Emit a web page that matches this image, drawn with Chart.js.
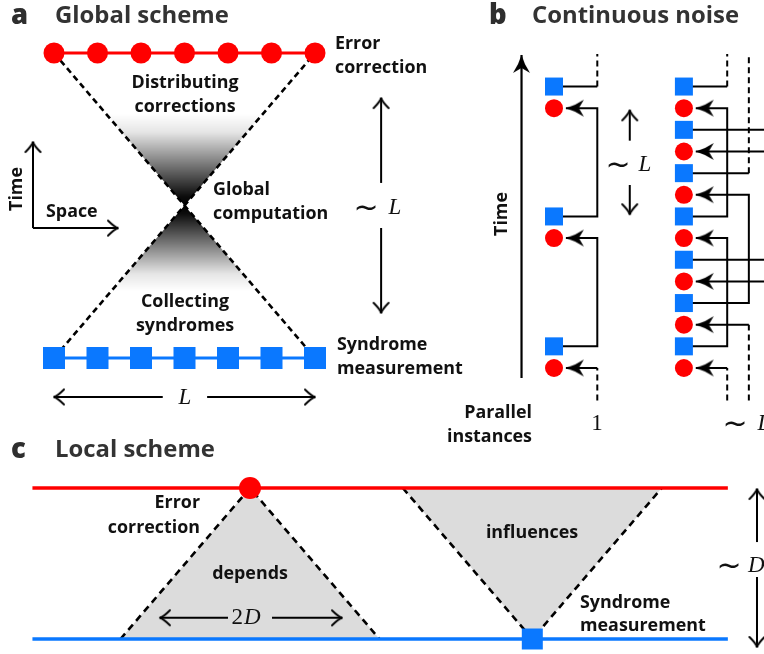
<!DOCTYPE html>
<html><head><meta charset="utf-8">
<script src="https://cdn.jsdelivr.net/npm/chart.js@4"></script>
<style>html,body{margin:0;padding:0;background:#fff}#c{display:block}</style>
</head><body>
<canvas id="c" width="764" height="654"></canvas>
<script>
// ================= DATA =================
// Panel a: global scheme (site index along space, time in units of one round)
const aSites = [0, 1, 2, 3, 4, 5, 6];
const aMeasureTime = 0;      // syndrome measurement row
const aComputeTime = 0.5;    // global computation
const aCorrectTime = 1;      // error correction row
const aComputeSite = 3;
const aFadeTop = 0.8;        // where the grey shading fades out
const aFadeBottom = 0.22;

// Panel b: continuous noise (time steps)
const bSingleSyndromes = [1, 7, 13];
const bSingleCorrections = [0, 6, 12];
const bManySyndromes = [1, 3, 5, 7, 9, 11, 13];
const bManyCorrections = [0, 2, 4, 6, 8, 10, 12];
// links: [lane, syndrome step, correction step]; null = outside the window
const bSingleLinks = [[0, 1, 6], [0, 7, 12], [0, 13, null], [0, null, 0]];
const bManyLinks = [
  [0, 1, 6], [0, 7, 12], [0, 13, null], [0, null, 0],
  [1, 3, 8], [1, 9, null], [1, null, 2],
  [2, 5, 10], [2, 11, null], [2, null, 4]
];

// Panel c: local scheme (space and time in units of D)
const cDependsAt = 0;
const cInfluencesAt = 2.18;
const cConeHalfWidth = 1;
const cSpan = [-1.68, 3.69];

// ================= LAYOUT =================
const W = 764, H = 654;
const MAP = {
  a: {x0: 54, kx: 43.5, y0: 358, ky: 305},
  b: {x0: 554, kx: 21.65, y0: 368, ky: 21.65},
  c: {x0: 250, kx: 129.5, y0: 639, ky: 151}
};
const RED = '#ff0000', BLUE = '#0a78ff', GRAY = '#dcdcdc';

function openHead(len, half, lw) {
  const c = document.createElement('canvas');
  c.width = Math.ceil(2 * len + 4); c.height = Math.ceil(2 * half + 4);
  const g = c.getContext('2d'), cx = c.width / 2, cy = c.height / 2;
  g.strokeStyle = '#000'; g.lineWidth = lw; g.lineCap = 'round'; g.lineJoin = 'round';
  g.beginPath();
  g.moveTo(cx - len, cy - half);
  g.quadraticCurveTo(cx - len * 0.35, cy - half * 0.15, cx, cy);
  g.quadraticCurveTo(cx - len * 0.35, cy + half * 0.15, cx - len, cy + half);
  g.stroke();
  return c;
}
function stealthHead(len, half, notch) {
  const c = document.createElement('canvas');
  c.width = Math.ceil(2 * len + 2); c.height = Math.ceil(2 * half + 2);
  const g = c.getContext('2d'), cx = c.width / 2, cy = c.height / 2;
  g.fillStyle = '#000';
  g.beginPath();
  g.moveTo(cx, cy);
  g.quadraticCurveTo(cx - len * 0.5, cy - half * 0.3, cx - len, cy - half);
  g.lineTo(cx - len + notch, cy);
  g.lineTo(cx - len, cy + half);
  g.quadraticCurveTo(cx - len * 0.5, cy + half * 0.3, cx, cy);
  g.closePath(); g.fill();
  return c;
}
const OPEN = openHead(10, 7.5, 1.9);
const STEALTH = stealthHead(18, 8.5, 5);

const datasets = [];
function add(p, pts, o) {
  datasets.push(Object.assign({
    xAxisID: 'x' + p, yAxisID: 'y' + p,
    data: pts.map(([x, y]) => ({x, y})),
    showLine: true, borderColor: '#000', borderWidth: 2, pointRadius: 0,
    pointBorderWidth: 0, fill: false, order: 5
  }, o));
}
function arrow(p, pts, head, o) {
  const m = MAP[p], n = pts.length, a = pts[n - 2], b = pts[n - 1];
  const ang = Math.atan2(-(b[1] - a[1]) * m.ky, (b[0] - a[0]) * m.kx) * 180 / Math.PI;
  add(p, pts, Object.assign({
    pointStyle: head, pointRotation: ang,
    pointRadius: pts.map((_, i) => i === n - 1 ? 4 : 0)
  }, o));
}
function grad(axis, fadeAt, darkAt) {
  return (ctx) => {
    const ch = ctx.chart, s = ch.scales[axis];
    if (!ch.chartArea || !s) return 'rgba(0,0,0,0)';
    const y0 = s.getPixelForValue(fadeAt), y1 = s.getPixelForValue(darkAt);
    if (!isFinite(y0) || !isFinite(y1)) return 'rgba(0,0,0,0)';
    const g = ch.ctx.createLinearGradient(0, y0, 0, y1);
    g.addColorStop(0, 'rgba(0,0,0,0)');
    g.addColorStop(0.2, 'rgba(0,0,0,0.1)');
    g.addColorStop(0.9, 'rgba(0,0,0,0.95)');
    g.addColorStop(1, 'rgba(0,0,0,1)');
    return g;
  };
}

// ---------- panel a ----------
const aL = aSites[0], aR = aSites[aSites.length - 1];
add('a', [[aL, aCorrectTime], [aComputeSite, aComputeTime], [aR, aCorrectTime]],
  {fill: 'shape', backgroundColor: grad('ya', aFadeTop, aComputeTime), borderDash: [6, 4], borderWidth: 2.6, order: 8});
add('a', [[aL, aMeasureTime], [aComputeSite, aComputeTime], [aR, aMeasureTime]],
  {fill: 'shape', backgroundColor: grad('ya', aFadeBottom, aComputeTime), borderDash: [6, 4], borderWidth: 2.6, order: 8});
add('a', aSites.map(s => [s, aCorrectTime]),
  {borderColor: RED, borderWidth: 3, pointRadius: 10.5, pointStyle: 'circle', pointBackgroundColor: RED, order: 1});
add('a', aSites.map(s => [s, aMeasureTime]),
  {borderColor: BLUE, borderWidth: 3, pointRadius: 15.56, pointStyle: 'rect', pointBackgroundColor: BLUE, order: 1});
arrow('a', [[2.5, -0.128], [aL, -0.128]], OPEN);
arrow('a', [[3.52, -0.128], [aR, -0.128]], OPEN);
arrow('a', [[7.52, 0.574], [7.52, 0.852]], OPEN);
arrow('a', [[7.52, 0.426], [7.52, 0.148]], OPEN);
arrow('a', [[-0.483, 0.426], [-0.483, 0.708]], OPEN);
arrow('a', [[-0.483, 0.426], [1.47, 0.426]], OPEN);

// ---------- panel b ----------
const bCols = [0, 6], bLaneOffset = 2, bTip = 0.55, bFuture = 14.5, bPast = -1.5;
function links(col, list) {
  for (const [lane, s, c] of list) {
    const lx = col + bLaneOffset + lane;
    if (s !== null && c !== null) {
      arrow('b', [[col, s], [lx, s], [lx, c], [col + bTip, c]], STEALTH);
    } else if (s !== null) {
      add('b', [[col, s], [lx, s]]);
      add('b', [[lx, s], [lx, bFuture]], {borderDash: [6, 4]});
    } else {
      add('b', [[lx, bPast], [lx, c]], {borderDash: [6, 4]});
      arrow('b', [[lx, c], [col + bTip, c]], STEALTH);
    }
  }
}
links(bCols[0], bSingleLinks);
links(bCols[1], bManyLinks);
add('b', bSingleSyndromes.map(k => [bCols[0], k]), {showLine: false, pointStyle: 'rect', pointRadius: 12.73, pointBackgroundColor: BLUE, order: 1});
add('b', bSingleCorrections.map(k => [bCols[0], k]), {showLine: false, pointStyle: 'circle', pointRadius: 9, pointBackgroundColor: RED, order: 1});
add('b', bManySyndromes.map(k => [bCols[1], k]), {showLine: false, pointStyle: 'rect', pointRadius: 12.73, pointBackgroundColor: BLUE, order: 1});
add('b', bManyCorrections.map(k => [bCols[1], k]), {showLine: false, pointStyle: 'circle', pointRadius: 9, pointBackgroundColor: RED, order: 1});
arrow('b', [[-1.5, -0.46], [-1.5, 14.46]], STEALTH, {borderWidth: 2.2});
arrow('b', [[3.5, 10.5], [3.5, 11.9]], OPEN);
arrow('b', [[3.5, 8.45], [3.5, 7.1]], OPEN);

// ---------- panel c ----------
add('c', [[cDependsAt - cConeHalfWidth, 0], [cDependsAt, 1], [cDependsAt + cConeHalfWidth, 0]],
  {fill: 'shape', backgroundColor: GRAY, borderDash: [7, 5], borderWidth: 2.6, order: 8});
add('c', [[cInfluencesAt - cConeHalfWidth, 1], [cInfluencesAt, 0], [cInfluencesAt + cConeHalfWidth, 1]],
  {fill: 'shape', backgroundColor: GRAY, borderDash: [7, 5], borderWidth: 2.6, order: 8});
add('c', [[cSpan[0], 1], [cSpan[1], 1]], {borderColor: RED, borderWidth: 3.5, order: 6});
add('c', [[cSpan[0], 0], [cSpan[1], 0]], {borderColor: BLUE, borderWidth: 3.5, order: 6});
add('c', [[cDependsAt, 1]], {showLine: false, pointStyle: 'circle', pointRadius: 11, pointBackgroundColor: RED, order: 1});
add('c', [[cInfluencesAt, 0]], {showLine: false, pointStyle: 'rect', pointRadius: 14.85, pointBackgroundColor: BLUE, order: 1});
arrow('c', [[-0.17, 0.14], [-0.695, 0.14]], OPEN);
arrow('c', [[0.17, 0.14], [0.71, 0.14]], OPEN);
arrow('c', [[3.915, 0.642], [3.915, 0.993]], OPEN);
arrow('c', [[3.915, 0.41], [3.915, -0.053]], OPEN);

// ---------- text ----------
const SANS = '"Open Sans", Lato, sans-serif';
function fitSize(weight, family, word, target) {
  const g = document.createElement('canvas').getContext('2d');
  g.font = `${weight} 20px ${family}`;
  return 20 * target / g.measureText(word).width;
}
const lblSize = fitSize(700, SANS, 'Distributing', 107);
const ttlSize = fitSize(700, SANS, 'Global scheme', 174);
const LBL = `700 ${lblSize.toFixed(2)}px ${SANS}`;
const TTL = `700 ${ttlSize.toFixed(2)}px ${SANS}`;
const LET = `800 ${(ttlSize * 1.15).toFixed(2)}px ${SANS}`;
const MI = 'italic 23px "Liberation Serif", "DejaVu Serif", serif';
const MU = '23px "Liberation Serif", "DejaVu Serif", serif';
const MT = '30px "DejaVu Sans", sans-serif';
const TILDE = '~';
const LABELS = [
  {t: 'a', x: 11, y: 16, a: 'left', f: LET, c: '#2e2e2e'},
  {t: 'Global scheme', x: 55, y: 16, a: 'left', f: TTL, c: '#333'},
  {t: 'Error', x: 335, y: 44, a: 'left'}, {t: 'correction', x: 335, y: 68, a: 'left'},
  {t: 'Distributing', x: 185, y: 83}, {t: 'corrections', x: 185, y: 107},
  {t: 'Global', x: 213, y: 190, a: 'left'}, {t: 'computation', x: 213, y: 214, a: 'left'},
  {t: TILDE, x: 366, y: 209, f: MT}, {t: 'L', x: 395, y: 208, f: MI},
  {t: 'Time', x: 17, y: 189, r: -90}, {t: 'Space', x: 46, y: 212, a: 'left'},
  {t: 'Collecting', x: 185, y: 302}, {t: 'syndromes', x: 185, y: 326},
  {t: 'Syndrome', x: 337, y: 345, a: 'left'}, {t: 'measurement', x: 337, y: 369, a: 'left'},
  {t: 'L', x: 185, y: 398, f: MI},

  {t: 'b', x: 489, y: 16, a: 'left', f: LET, c: '#2e2e2e'},
  {t: 'Continuous noise', x: 532, y: 16, a: 'left', f: TTL, c: '#333'},
  {t: 'Time', x: 502, y: 214, r: -90},
  {t: TILDE, x: 618, y: 166, f: MT}, {t: 'L', x: 645, y: 165, f: MI},
  {t: 'Parallel', x: 532, y: 413, a: 'right'}, {t: 'instances', x: 532, y: 437, a: 'right'},
  {t: '1', x: 597, y: 424, f: MU},
  {t: TILDE, x: 735, y: 425, f: MT}, {t: 'L', x: 764, y: 424, f: MI},

  {t: 'c', x: 11, y: 450, a: 'left', f: LET, c: '#2e2e2e'},
  {t: 'Local scheme', x: 55, y: 450, a: 'left', f: TTL, c: '#333'},
  {t: 'Error', x: 200, y: 503, a: 'right'}, {t: 'correction', x: 200, y: 528, a: 'right'},
  {t: 'depends', x: 250, y: 574},
  {t: '2', x: 243, y: 618, a: 'right', f: MU}, {t: 'D', x: 244, y: 618, a: 'left', f: MI},
  {t: 'influences', x: 532, y: 533},
  {t: 'Syndrome', x: 580, y: 603, a: 'left'}, {t: 'measurement', x: 580, y: 626, a: 'left'},
  {t: TILDE, x: 729, y: 567, f: MT}, {t: 'D', x: 748, y: 566, a: 'left', f: MI}
];
const textPlugin = {
  id: 'labels',
  afterDatasetsDraw(chart) {
    const ctx = chart.ctx;
    for (const L of LABELS) {
      ctx.save();
      ctx.font = L.f || LBL;
      ctx.fillStyle = L.c || '#111';
      ctx.textAlign = L.a || 'center';
      ctx.textBaseline = 'middle';
      ctx.translate(L.x, L.y);
      if (L.r) ctx.rotate(L.r * Math.PI / 180);
      ctx.fillText(L.t, 0, 0);
      ctx.restore();
    }
  }
};

// ---------- scales ----------
const scales = {
  x: {type: 'linear', display: false}, y: {type: 'linear', display: false}
};
for (const p of ['a', 'b', 'c']) {
  const m = MAP[p];
  scales['x' + p] = {type: 'linear', axis: 'x', position: 'bottom', display: false,
    min: -m.x0 / m.kx, max: (W - m.x0) / m.kx};
  scales['y' + p] = {type: 'linear', axis: 'y', position: 'left', display: false,
    min: (m.y0 - H) / m.ky, max: m.y0 / m.ky};
}

new Chart(document.getElementById('c'), {
  type: 'scatter',
  data: {datasets},
  options: {
    responsive: false, animation: false, devicePixelRatio: 1, events: [],
    layout: {padding: 0, autoPadding: false},
    scales,
    plugins: {legend: {display: false}, tooltip: {enabled: false}, filler: {propagate: false}}
  },
  plugins: [textPlugin]
});
</script>
</body></html>
